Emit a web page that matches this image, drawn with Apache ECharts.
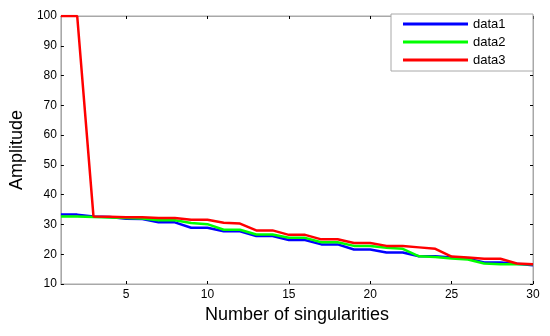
<!DOCTYPE html>
<html>
<head>
<meta charset="utf-8">
<script src="https://cdn.jsdelivr.net/npm/echarts@6/dist/echarts.min.js"></script>
<style>html,body{margin:0;padding:0;background:#fff}#c{width:550px;height:336px}</style>
</head>
<body>
<div id="c"></div>
<script>
var xValues = [1,2,3,4,5,6,7,8,9,10,11,12,13,14,15,16,17,18,19,20,21,22,23,24,25,26,27,28,29,30];
var xTickLabels = [5,10,15,20,25,30];
var yTickLabels = [10,20,30,40,50,60,70,80,90,100];
var data1 = [33.3,33.3,32.7,32.5,31.9,31.8,30.7,30.7,28.9,28.9,27.7,27.7,26.1,26.1,24.8,24.8,23.3,23.3,21.6,21.6,20.6,20.6,19.3,19.3,18.9,18.5,17.2,17.2,16.8,16.3];
var data2 = [32.7,32.7,32.5,32.3,32.2,32.0,31.4,31.4,30.5,30.1,28.2,28.2,26.6,26.6,25.5,25.5,24.0,24.0,22.8,22.8,22.2,21.8,19.3,19.1,18.6,18.2,16.9,16.6,16.6,16.6];
var data3 = [100,100,32.7,32.6,32.4,32.4,32.2,32.2,31.6,31.6,30.6,30.3,28.0,28.0,26.5,26.5,25.0,25.0,23.75,23.75,22.8,22.8,22.3,21.8,19.2,18.9,18.5,18.5,16.9,16.6];
var names = ['data1','data2','data3'];
var colors = ['#0000ff','#00ff00','#ff0000'];

function pairs(arr){ return arr.map(function(v,i){ return [xValues[i], v]; }); }

var chart = echarts.init(document.getElementById('c'));
var font = 'Liberation Sans, Arial, sans-serif';
var frame = '#a8a8a8';
var tickStyle = {show:true, inside:true, length:3, lineStyle:{color:'#000', width:1}};
chart.setOption({
  animation:false,
  textStyle:{fontFamily:font},
  grid:{left:59, right:17, top:16, bottom:52, show:true, borderColor:frame, borderWidth:1},
  legend:{
    orient:'vertical', right:17, top:14,
    backgroundColor:'#fff', borderColor:frame, borderWidth:1, borderRadius:0,
    padding:[3,12,4,12], itemGap:4,
    itemWidth:65, itemHeight:3, icon:'rect',
    textStyle:{fontSize:13, color:'#000', width:48, lineHeight:14, fontFamily:font},
    data:names
  },
  xAxis:[{
    type:'value', min:1, max:30,
    name:'Number of singularities', nameLocation:'middle', nameGap:22,
    nameTextStyle:{fontSize:18, color:'#000', fontFamily:font},
    axisLine:{show:true, lineStyle:{color:frame}},
    axisTick:Object.assign({customValues:xTickLabels}, tickStyle),
    axisLabel:{customValues:xTickLabels, color:'#000', fontSize:12, margin:5, fontFamily:font},
    splitLine:{show:false}
  },{
    type:'value', min:1, max:30, position:'top',
    axisLine:{show:true, lineStyle:{color:frame}},
    axisTick:Object.assign({customValues:xTickLabels}, tickStyle),
    axisLabel:{show:false, customValues:xTickLabels},
    splitLine:{show:false}
  }],
  yAxis:[{
    type:'value', min:10, max:100, interval:10,
    name:'Amplitude', nameLocation:'middle', nameGap:33, nameRotate:90,
    nameTextStyle:{fontSize:18, color:'#000', fontFamily:font},
    axisLine:{show:true, lineStyle:{color:frame}},
    axisTick:tickStyle,
    axisLabel:{color:'#000', fontSize:12, margin:4, fontFamily:font},
    splitLine:{show:false}
  },{
    type:'value', min:10, max:100, interval:10, position:'right',
    axisLine:{show:true, lineStyle:{color:frame}},
    axisTick:tickStyle,
    axisLabel:{show:false},
    splitLine:{show:false}
  }],
  series:[data1,data2,data3].map(function(d,i){
    return {
      name:names[i], type:'line', data:pairs(d), symbol:'none',
      lineStyle:{color:colors[i], width:2.5}, itemStyle:{color:colors[i]}
    };
  })
});
</script>
</body>
</html>
